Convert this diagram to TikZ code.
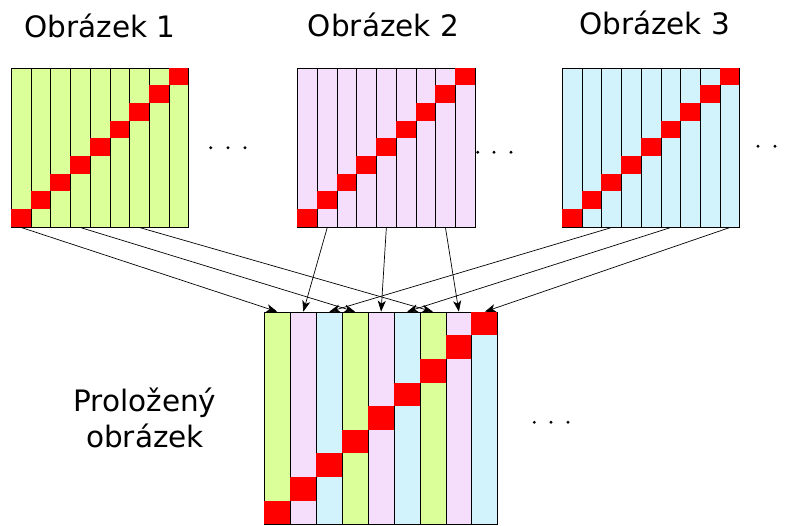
\documentclass[tikz,border=0pt]{standalone}
\usepackage{fontspec}
\setmainfont{DejaVu Sans}
\usetikzlibrary{arrows.meta}

\definecolor{zelena}{HTML}{DBFF99}
\definecolor{ruzova}{HTML}{F5DDFC}
\definecolor{modra}{HTML}{D3F3FC}

\tikzset{
  sloupec/.style={draw=black, line width=0.8pt, inner sep=0pt, anchor=north west,
    minimum width=19.7pt, minimum height=159pt},
  velky/.style={sloupec, minimum width=25.93pt, minimum height=212.6pt},
  sipka/.style={-{Stealth[length=11pt,width=8pt,inset=3pt]}, line width=0.7pt},
  popis/.style={font=\fontsize{29.5}{36}\selectfont, anchor=base},
}

\begin{document}
\begin{tikzpicture}[x=1pt,y=-1pt]
  \useasboundingbox (0,0) rectangle (787,525);

  % Popisky
  \node[popis] (t1) at (100,37.7) {Obrázek 1};
  \node[popis] (t2) at (383.5,36) {Obrázek 2};
  \node[popis] (t3) at (654.7,34) {Obrázek 3};
  \node[popis, align=center, anchor=center] (t4) at (145,418) {Proložený\\obrázek};

  % Tri obrazky po devíti sloupcích
  \foreach \obr/\x/\barva in {a/11/zelena, b/297.3/ruzova, c/562/modra} {
    \foreach \i in {0,...,8}
      \node[sloupec, fill=\barva] (\obr\i) at (\x+\i*19.7, 67.7) {};
    \foreach \i in {0,...,8}
      \fill[red] (\x+\i*19.7, 226.7-\i*17.67) rectangle ++(19.7,-17.67);
  }

  % Prolozeny obrazek
  \foreach \i/\barva in {0/zelena, 1/ruzova, 2/modra, 3/zelena, 4/ruzova,
                         5/modra, 6/zelena, 7/ruzova, 8/modra}
    \node[velky, fill=\barva] (p\i) at (264+\i*25.93, 311.7) {};
  \foreach \i in {0,...,8}
    \fill[red] (264+\i*25.93, 524.3-\i*23.62) rectangle ++(25.93,-23.62);

  % Sipky
  \foreach \obr/\i in {a/0, a/3, a/6, b/1, b/4, b/7, c/2, c/5, c/8}
    \draw[sipka] (\obr\i.south) -- (p\i.north);

  % Tecky
  \foreach \x in {210.7, 228, 245}
    \fill (\x,147.7) circle (1.6pt);
  \foreach \x in {477.7, 494, 511}
    \fill (\x,152.3) circle (1.6pt);
  \foreach \x in {758, 775}
    \fill (\x,146.3) circle (1.6pt);
  \foreach \x in {534.3, 551, 568}
    \fill (\x,422.3) circle (1.6pt);
\end{tikzpicture}
\end{document}
